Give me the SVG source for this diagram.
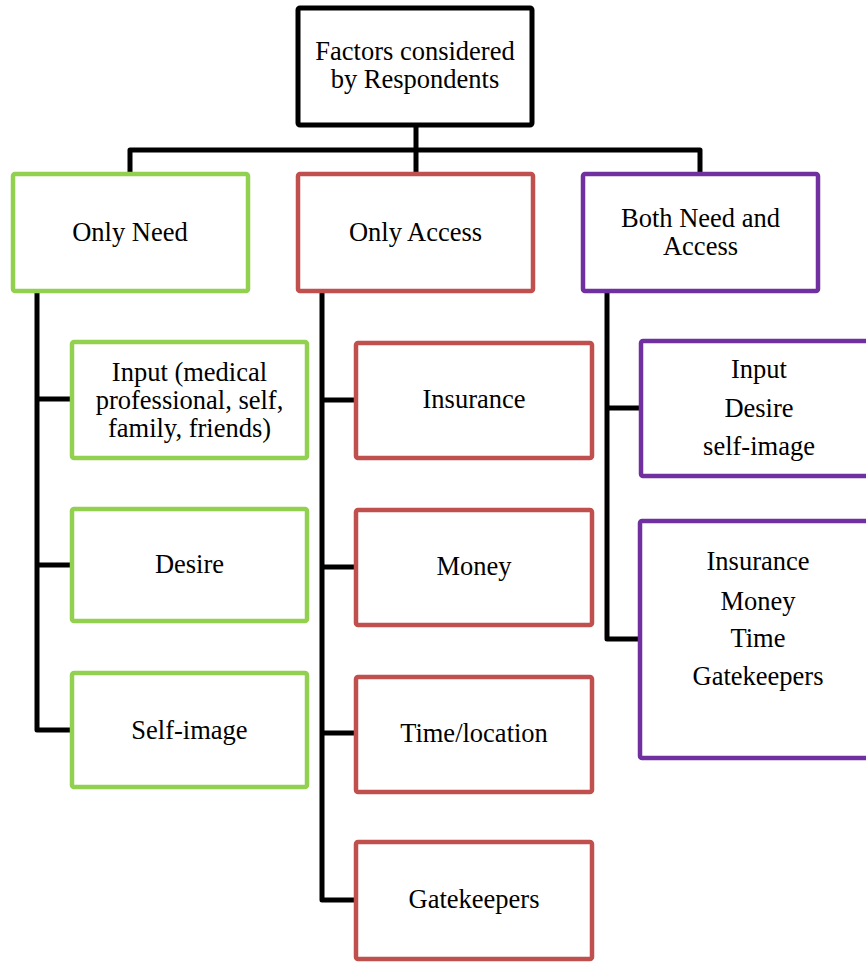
<svg xmlns="http://www.w3.org/2000/svg" width="866" height="962" viewBox="0 0 866 962">
<style>
.box{fill:#fff;stroke-width:4.5;stroke-linejoin:round}
.k{stroke:#000;stroke-width:5}
.g{stroke:#92D050}
.r{stroke:#C0504D}
.p{stroke:#7030A0}
.c{fill:none;stroke:#000;stroke-width:5;stroke-linejoin:round}
text{font-family:"Liberation Serif","Times New Roman",serif;font-size:26.5px;fill:#000;text-anchor:middle}
</style>
<rect width="866" height="962" fill="#fff"/>
<g id="connectors">
<path class="c" d="M416 127V150M130 172V150H700V172M416 150V172"/>
<path class="c" d="M37 293V730H72M37 399H72M37 565H72"/>
<path class="c" d="M322 293V900H356M322 400H356M322 567H356M322 733H356"/>
<path class="c" d="M607 293V639H641M607 408H641"/>
</g>
<g id="root"><rect class="box k" x="298" y="8" width="234" height="117" rx="2"/><text x="415" y="60">Factors considered</text><text x="415" y="88">by Respondents</text></g>
<g id="only-need"><rect class="box g" x="13" y="174" width="235" height="117" rx="2"/><text x="130" y="241">Only Need</text></g>
<g id="only-access"><rect class="box r" x="298" y="174" width="235" height="117" rx="2"/><text x="415.5" y="241">Only Access</text></g>
<g id="both"><rect class="box p" x="583" y="174" width="235" height="117" rx="2"/><text x="700.5" y="227">Both Need and</text><text x="700.5" y="255">Access</text></g>
<g id="need-input"><rect class="box g" x="72" y="342" width="235" height="116" rx="2"/><text x="189.5" y="381">Input (medical</text><text x="189.5" y="409">professional, self,</text><text x="189.5" y="437">family, friends)</text></g>
<g id="need-desire"><rect class="box g" x="72" y="509" width="235" height="112" rx="2"/><text x="189.5" y="573">Desire</text></g>
<g id="need-selfimage"><rect class="box g" x="72" y="673" width="235" height="114" rx="2"/><text x="189.5" y="739">Self-image</text></g>
<g id="access-insurance"><rect class="box r" x="356" y="343" width="236" height="115" rx="2"/><text x="474" y="408">Insurance</text></g>
<g id="access-money"><rect class="box r" x="356" y="510" width="236" height="115" rx="2"/><text x="474" y="575">Money</text></g>
<g id="access-time"><rect class="box r" x="356" y="677" width="236" height="115" rx="2"/><text x="474" y="742">Time/location</text></g>
<g id="access-gatekeepers"><rect class="box r" x="356" y="842" width="236" height="117" rx="2"/><text x="474" y="908">Gatekeepers</text></g>
<g id="both-need"><rect class="box p" x="641" y="341" width="236" height="135" rx="2"/><text x="759" y="378">Input</text><text x="759" y="417">Desire</text><text x="759" y="455">self-image</text></g>
<g id="both-access"><rect class="box p" x="640" y="521" width="237" height="237" rx="2"/><text x="758" y="570">Insurance</text><text x="758" y="610">Money</text><text x="758" y="647">Time</text><text x="758" y="685">Gatekeepers</text></g>
</svg>
